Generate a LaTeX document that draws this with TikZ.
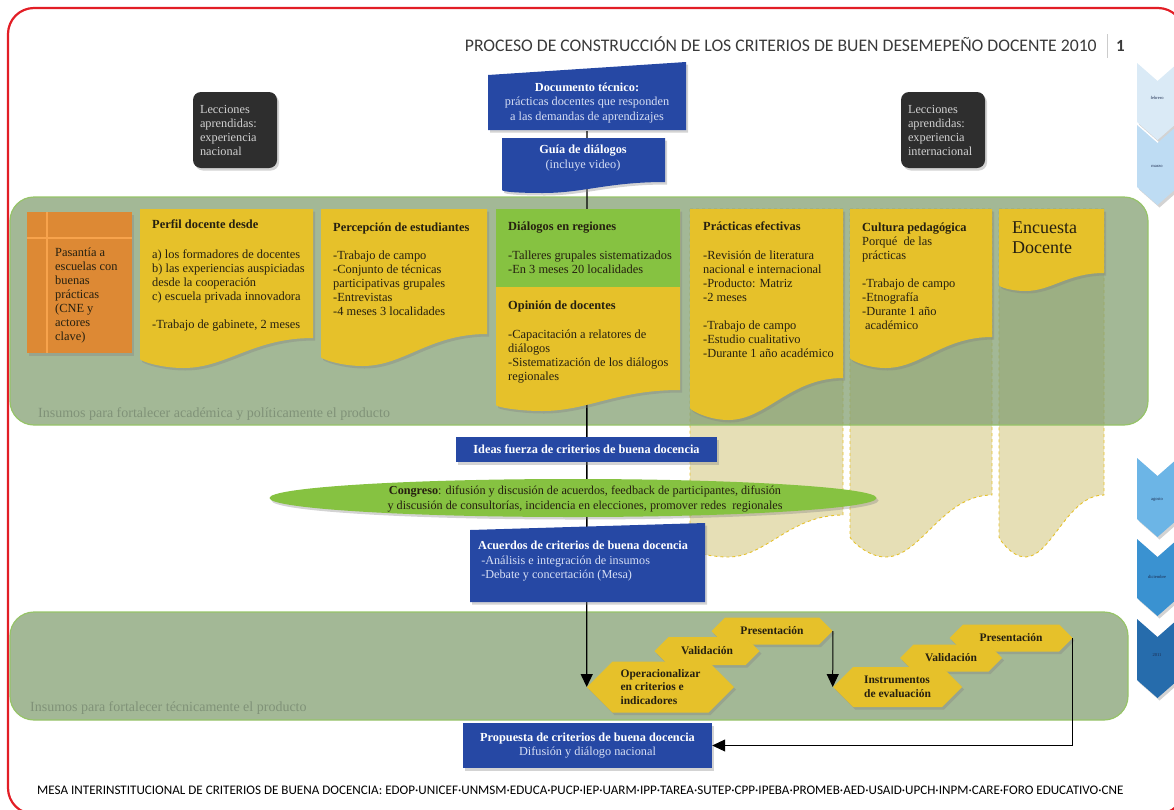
\documentclass[tikz,border=0pt]{standalone}
\usepackage{fontspec}
\setmainfont{Liberation Serif}
\newfontfamily\headfont{Carlito}
\usetikzlibrary{shapes.geometric}
\usetikzlibrary{shapes.symbols}
\usetikzlibrary{shadows}
\usetikzlibrary{arrows.meta}
\usetikzlibrary{positioning}

\definecolor{docblue}{RGB}{38,72,164}
\definecolor{paleblue}{RGB}{214,222,244}
\definecolor{docyellow}{RGB}{230,193,42}
\definecolor{docgreen}{RGB}{134,194,65}
\definecolor{docorange}{RGB}{221,137,52}
\definecolor{orangeline}{RGB}{247,163,76}
\definecolor{panelgreen}{RGB}{132,160,115}
\definecolor{panelborder}{RGB}{150,196,104}
\definecolor{paneltext}{RGB}{128,146,120}
\definecolor{lessongray}{RGB}{46,46,46}
\definecolor{paleyellow}{RGB}{230,223,182}
\definecolor{framered}{RGB}{226,30,38}
\definecolor{textdark}{RGB}{38,32,16}
\definecolor{titlegray}{RGB}{58,58,58}
\definecolor{monthA}{RGB}{218,234,246}
\definecolor{monthB}{RGB}{190,220,243}
\definecolor{monthC}{RGB}{108,181,230}
\definecolor{monthD}{RGB}{58,146,209}
\definecolor{monthE}{RGB}{38,108,172}
\definecolor{monthtext}{RGB}{28,44,80}

% yellow sheet with a wavy lower edge: x0, x1, top, left end, lowest point, right end
\newcommand{\wavedoc}[6]{(#1,#3) -- (#2,#3) -- (#2,#6)
  .. controls ({#2-0.35*(#2-#1)},#6) and ({#1+0.5*(#2-#1)},#5) .. ({#1+0.25*(#2-#1)},#5)
  .. controls ({#1+0.12*(#2-#1)},#5) and (#1,{#4+2}) .. (#1,#4) -- cycle}
% month chevron: top, tip
\newcommand{\chevron}[2]{(1137,#1) -- (1157.5,{#1+18}) -- (1178,#1) -- (1178,{#2-18})
  -- (1157.5,#2) -- (1137,{#2-18}) -- cycle}

\begin{document}
\begin{tikzpicture}[x=1pt,y=-1pt,>={Triangle[length=13pt,width=12pt]},
	flow/.style={->,black,line width=1.4pt},
	shadowed/.style={drop shadow={opacity=0.35,shadow xshift=2pt,shadow yshift=-2.5pt}},
	panel/.style={fill=panelgreen,fill opacity=0.75,draw=panelborder,line width=1.2pt,rounded corners=24pt},
	paneltxt/.style={anchor=base west,inner sep=0pt,text=paneltext,font=\fontsize{14}{16}\selectfont},
	ydoc/.style={fill=docyellow,shadowed},
	ext/.style={fill=paleyellow,draw=docyellow,dashed,line width=0.9pt},
	boxtxt/.style={anchor=north west,align=left,inner sep=0pt,text=textdark,font=\fontsize{12.4}{14}\selectfont},
	bluebox/.style={fill=docblue,shadowed},
	bluetxt/.style={align=center,inner sep=0pt,text=white,font=\fontsize{12.3}{14.5}\selectfont},
	lessonbox/.style={fill=lessongray,rounded corners=8pt,shadowed,minimum width=84pt,minimum height=76pt,
		text width=70pt,align=left,text=white!82!black,font=\fontsize{12.3}{14}\selectfont},
	hexa/.style={signal,signal to=west and east,signal pointer angle=90,fill=docyellow,shadowed,
		inner sep=0pt,align=left,text=textdark,font=\bfseries\fontsize{11.5}{13.8}\selectfont},
	chev/.style={shadowed},
	chevtxt/.style={inner sep=0pt,text=monthtext,font=\fontsize{4.5}{5}\selectfont}]

	\clip (0,0) rectangle (1174,809);
	\draw[framered,line width=2.2pt,rounded corners=26pt] (8,8) rectangle (1184,814);

	% heading and footer
	\node[anchor=base east,inner sep=0pt,text=titlegray,font=\headfont\fontsize{17.7}{20}\selectfont] (title) at (1097,51)
		{PROCESO DE CONSTRUCCIÓN DE LOS CRITERIOS DE BUEN DESEMEPEÑO DOCENTE 2010};
	\draw[black!20,line width=0.8pt] (1107,34) -- (1107,58);
	\node[anchor=base west,inner sep=0pt,text=titlegray,font=\headfont\bfseries\fontsize{17}{20}\selectfont] (page) at (1116,51) {1};
	\node[anchor=base west,inner sep=0pt,font=\headfont\fontsize{13.1}{15}\selectfont] (footer) at (37,794)
		{MESA INTERINSTITUCIONAL DE CRITERIOS DE BUENA DOCENCIA: EDOP·UNICEF·UNMSM·EDUCA·PUCP·IEP·UARM·IPP·TAREA·SUTEP·CPP·IPEBA·PROMEB·AED·USAID·UPCH·INPM·CARE·FORO EDUCATIVO·CNE};

	% months
	\fill[monthA,chev] \chevron{63}{140};
	\fill[monthB,chev] \chevron{125}{205};
	\fill[monthC,chev] \chevron{458}{537};
	\fill[monthD,chev] \chevron{539}{616};
	\fill[monthE,chev] \chevron{619}{698};
	\node[chevtxt] (feb) at (1157,98) {febrero};
	\node[chevtxt] (mar) at (1157,166) {marzo};
	\node[chevtxt] (ago) at (1157,500) {agosto};
	\node[chevtxt] (dic) at (1157,577) {diciembre};
	\node[chevtxt] (y2011) at (1157,655) {2011};

	% lessons learnt
	\node[lessonbox] (nacional) at (235,130) {Lecciones\\aprendidas:\\experiencia\\nacional};
	\node[lessonbox] (internacional) at (943,130) {Lecciones\\aprendidas:\\experiencia\\internacional};

	% dashed tails behind the first panel
	\path[ext] \wavedoc{690}{843}{209}{549}{557}{515};
	\path[ext] \wavedoc{850}{992}{209}{537}{557}{495};
	\path[ext] \wavedoc{999}{1104}{209}{537}{557}{495};

	% panels
	\path[panel] (10,197) rectangle (1148,425);
	\node[paneltxt] (insumosA) at (38,417) {Insumos para fortalecer académica y políticamente el producto};
	\path[panel] (10,612) rectangle (1128,720);
	\node[paneltxt] (insumosB) at (30,711) {Insumos para fortalecer técnicamente el producto};

	% technical document
	\fill[bluebox] (488,75) -- (686,62) -- (686,130) -- (488,130) -- cycle;
	\node[bluetxt,minimum width=198pt,minimum height=56pt] (doc) at (587,103)
		{\textbf{Documento técnico:}\\\textcolor{paleblue}{prácticas docentes que responden}\\\textcolor{paleblue}{a las demandas de aprendizajes}};

	% steps in the second panel
	\node[hexa,minimum width=121pt,minimum height=27pt] (presA) at (772,631) {Presentación};
	\node[hexa,minimum width=105pt,minimum height=28pt] (valA) at (707,651) {Validación};
	\node[hexa,minimum width=147pt,minimum height=51pt] (op) at (660.5,687) {Operacionalizar\\en criterios e\\indicadores};
	\node[hexa,minimum width=123pt,minimum height=27pt] (presB) at (1011,638) {Presentación};
	\node[hexa,minimum width=102pt,minimum height=27pt] (valB) at (951,658) {Validación};
	\node[hexa,minimum width=129pt,minimum height=40pt] (inst) at (897.5,687) {Instrumentos\\de evaluación};

	\draw[flow] (doc) -- (op.west);

	% guide
	\fill[bluebox] \wavedoc{502}{665}{138}{190}{193}{182};
	\node[bluetxt] (guia) at (583,158) {\textbf{Guía de diálogos}\\\textcolor{paleblue}{(incluye video)}};

	% inputs
	\fill[docorange,shadowed] (27,212) rectangle (132,353);
	\draw[orangeline,line width=1.5pt] (47,212) -- (47,353) (27,238) -- (132,238);
	\node[boxtxt,text=textdark] (pasantia) at (55,248) {Pasantía a\\escuelas con\\buenas\\prácticas\\(CNE y\\actores\\clave)};

	\fill[ydoc] \wavedoc{140}{313}{209}{359}{368}{338};
	\node[boxtxt] (perfil) at (152,220) {\textbf{Perfil docente desde}\\[15.5pt]a) los formadores de docentes\\b) las experiencias auspiciadas\\desde la cooperación\\c) escuela privada innovadora\\[14pt]-Trabajo de gabinete, 2 meses};

	\fill[ydoc] \wavedoc{321}{487}{209}{357}{366}{334};
	\node[boxtxt] (percepcion) at (333,223) {\textbf{Percepción de estudiantes}\\[14pt]-Trabajo de campo\\-Conjunto de técnicas\\participativas grupales\\-Entrevistas\\-4 meses 3 localidades};

	\fill[ydoc] \wavedoc{496}{680}{209}{405}{411}{390};
	\fill[docgreen] (496,209) rectangle (680,287);
	\node[boxtxt] (dialogos) at (508,222) {\textbf{Diálogos en regiones}\\[15pt]-Talleres grupales sistematizados\\-En 3 meses 20 localidades};
	\node[boxtxt] (opinion) at (508,301) {\textbf{Opinión de docentes}\\[15pt]-Capacitación a relatores de\\diálogos\\-Sistematización de los diálogos\\regionales};

	\fill[ydoc] \wavedoc{690}{843}{209}{408}{420}{378};
	\node[boxtxt] (practicas) at (703,222) {\textbf{Prácticas efectivas}\\[15pt]-Revisión de literatura\\nacional e internacional\\-Producto: Matriz\\-2 meses\\[14pt]-Trabajo de campo\\-Estudio cualitativo\\-Durante 1 año académico};

	\fill[ydoc] \wavedoc{850}{992}{209}{358}{368}{337};
	\node[boxtxt] (cultura) at (862,223) {\textbf{Cultura pedagógica}\\Porqué\ \ de las\\prácticas\\[14pt]-Trabajo de campo\\-Etnografía\\-Durante 1 año\\\hspace{3pt}académico};

	\fill[ydoc] \wavedoc{999}{1104}{209}{285}{291}{273};
	\node[boxtxt,font=\fontsize{18}{20}\selectfont] (encuesta) at (1012,222) {Encuesta\\Docente};

	% towards the agreement
	\fill[bluebox] (456,437) rectangle (717,462);
	\node[bluetxt,font=\bfseries\fontsize{12.3}{14}\selectfont] (ideas) at (586.5,449) {Ideas fuerza de criterios de buena docencia};

	\node[ellipse,fill=docgreen,shadowed,minimum width=607pt,minimum height=38pt] (congreso) at (573,498) {};
	\node[bluetxt,text=textdark,font=\fontsize{12.2}{15}\selectfont] (congresotxt) at (585,499) {\textbf{Congreso}: difusión y discusión de acuerdos, feedback de participantes, difusión\\y discusión de consultorías, incidencia en elecciones, promover redes\ \ regionales};

	\fill[bluebox] (470,530) -- (705,523) -- (705,602) -- (470,602) -- cycle;
	\node[boxtxt,text=white,font=\fontsize{12.2}{14.5}\selectfont] (acuerdos) at (478,541) {\textbf{Acuerdos de criterios de buena docencia}\\\textcolor{paleblue}{\ -Análisis e integración de insumos}\\\textcolor{paleblue}{\ -Debate y concertación (Mesa)}};

	\fill[bluebox] (463,723) rectangle (712,768);
	\node[bluetxt,minimum width=249pt,minimum height=45pt] (prop) at (587.5,745.5) {\textbf{Propuesta de criterios de buena docencia}\\\textcolor{paleblue}{Difusión y diálogo nacional}};

	\draw[flow,line width=1pt] (presA.east) -- (inst.west);
	\draw[flow,line width=1pt] (presB.east) |- (prop.east);
\end{tikzpicture}
\end{document}
